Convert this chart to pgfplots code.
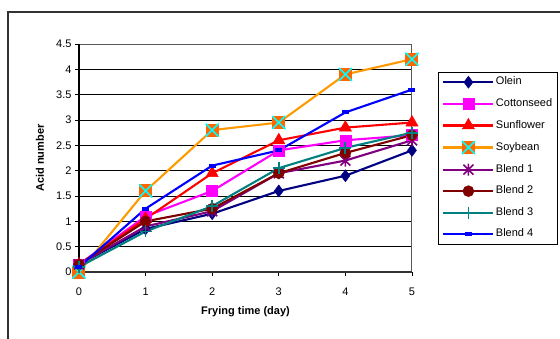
\documentclass[border=0pt]{standalone}
\usepackage{fontspec}
\setmainfont{Liberation Sans}
\usepackage{pgfplots}
\pgfplotsset{compat=1.18}
\definecolor{cOlein}{RGB}{0,0,128}
\definecolor{cCotton}{RGB}{255,0,255}
\definecolor{cSun}{RGB}{255,0,0}
\definecolor{cSoy}{RGB}{255,153,0}
\definecolor{cSoyFill}{RGB}{255,102,0}
\definecolor{cSoyX}{RGB}{0,255,255}
\definecolor{cB1}{RGB}{128,0,128}
\definecolor{cB2}{RGB}{128,0,0}
\definecolor{cB3}{RGB}{0,128,128}
\definecolor{cB4}{RGB}{0,0,255}
\pgfdeclareplotmark{soy}{%
  \pgfsetfillcolor{cSoyFill}%
  \pgfpathrectangle{\pgfpoint{-\pgfplotmarksize}{-\pgfplotmarksize}}{\pgfpoint{2\pgfplotmarksize}{2\pgfplotmarksize}}%
  \pgfusepath{fill}%
  \pgfsetstrokecolor{cSoyX}\pgfsetlinewidth{1.6pt}%
  \pgfpathmoveto{\pgfpoint{-\pgfplotmarksize}{-\pgfplotmarksize}}%
  \pgfpathlineto{\pgfpoint{\pgfplotmarksize}{\pgfplotmarksize}}%
  \pgfpathmoveto{\pgfpoint{-\pgfplotmarksize}{\pgfplotmarksize}}%
  \pgfpathlineto{\pgfpoint{\pgfplotmarksize}{-\pgfplotmarksize}}%
  \pgfusepath{stroke}%
}
\pgfdeclareplotmark{xstar}{%
  \pgfpathmoveto{\pgfpoint{-\pgfplotmarksize}{-\pgfplotmarksize}}%
  \pgfpathlineto{\pgfpoint{\pgfplotmarksize}{\pgfplotmarksize}}%
  \pgfpathmoveto{\pgfpoint{-\pgfplotmarksize}{\pgfplotmarksize}}%
  \pgfpathlineto{\pgfpoint{\pgfplotmarksize}{-\pgfplotmarksize}}%
  \pgfpathmoveto{\pgfpoint{0pt}{-1.2\pgfplotmarksize}}%
  \pgfpathlineto{\pgfpoint{0pt}{1.2\pgfplotmarksize}}%
  \pgfusepath{stroke}%
}
\pgfdeclareplotmark{bar4}{%
  \pgfpathrectangle{\pgfpoint{-3.5pt}{-2pt}}{\pgfpoint{7pt}{4pt}}%
  \pgfusepath{fill}%
}
\begin{document}
\begin{tikzpicture}
\useasboundingbox (0pt,0pt) rectangle (560pt,338pt);
\draw[line width=1.2pt, black!80] (8pt,-2pt) -- (8pt,326pt) -- (562pt,326pt);
\begin{axis}[
  at={(79pt,66pt)}, anchor=south west,
  scale only axis, width=333pt, height=228pt,
  xmin=0, xmax=5, ymin=0, ymax=4.5,
  xtick={0,1,2,3,4,5},
  ytick={0,0.5,1,1.5,2,2.5,3,3.5,4,4.5},
  /pgf/number format/assume math mode=true,
  tick label style={font=\fontsize{11}{12}\selectfont},
  xticklabel style={yshift=-8pt},
  tick align=outside, xtick pos=bottom, ytick pos=left,
  major tick length=4pt,
  tick style={black, line width=0.8pt},
  ymajorgrids,
  major grid style={black, line width=0.6pt},
  axis line style={draw=gray!70!black, line width=1pt},
  clip=false,
  xlabel={Frying time (day)},
  ylabel={Acid number},
  xlabel style={font=\bfseries\fontsize{11}{12}\selectfont, at={(axis description cs:0.5,-0.1754)}, anchor=center},
  ylabel style={font=\bfseries\fontsize{11}{12}\selectfont, at={(axis description cs:-0.117,0.5)}, anchor=center, rotate=0},
  every axis plot/.append style={line width=2.1pt},
  legend image code/.code={\draw[mark repeat=2,mark phase=2] plot coordinates {(0pt,0pt) (25pt,0pt) (50pt,0pt)};},
  legend style={at={(axis description cs:1.078,0.877)}, anchor=north west,
    draw=black, line width=0.8pt, fill=white,
    inner xsep=4pt, inner ysep=3pt, row sep=8pt,
    font=\fontsize{11}{12}\selectfont,
    nodes={inner sep=1.5pt, text height=8pt, text depth=2.5pt}},
  legend cell align=left,
]
\draw[black, line width=1.6pt] (rel axis cs:0,0) -- (rel axis cs:0,1);
\draw[black!80, line width=1.6pt] (rel axis cs:0,0) -- (rel axis cs:1,0);
\addplot[color=cOlein, mark=diamond*, mark size=6pt, mark options={line width=0.5pt}]
  coordinates {(0,0.15) (1,0.85) (2,1.15) (3,1.6) (4,1.9) (5,2.4)};
\addlegendentry{Olein}
\addplot[color=cCotton, mark=square*, mark size=5.5pt, mark options={line width=0.5pt}]
  coordinates {(0,0.15) (1,1.1) (2,1.6) (3,2.4) (4,2.6) (5,2.7)};
\addlegendentry{Cottonseed}
\addplot[color=cSun, mark=triangle*, mark size=7pt, mark options={line width=0.5pt}]
  coordinates {(0,0.15) (1,1.05) (2,1.95) (3,2.6) (4,2.85) (5,2.95)};
\addlegendentry{Sunflower}
\addplot[color=cSoy, mark=soy, mark size=6.5pt]
  coordinates {(0,0) (1,1.6) (2,2.8) (3,2.95) (4,3.9) (5,4.2)};
\addlegendentry{Soybean}
\addplot[color=cB1, mark=xstar, mark size=5pt, mark options={line width=1.6pt}]
  coordinates {(0,0.15) (1,0.9) (2,1.2) (3,1.95) (4,2.2) (5,2.6)};
\addlegendentry{Blend 1}
\addplot[color=cB2, mark=*, mark size=5.5pt, mark options={line width=0.5pt}]
  coordinates {(0,0.15) (1,1.0) (2,1.25) (3,1.95) (4,2.35) (5,2.7)};
\addlegendentry{Blend 2}
\addplot[color=cB3, mark=+, mark size=6pt, mark options={line width=1.8pt}]
  coordinates {(0,0.1) (1,0.8) (2,1.3) (3,2.05) (4,2.45) (5,2.75)};
\addlegendentry{Blend 3}
\addplot[color=cB4, mark=bar4]
  coordinates {(0,0.1) (1,1.25) (2,2.1) (3,2.4) (4,3.15) (5,3.6)};
\addlegendentry{Blend 4}
\end{axis}
\end{tikzpicture}
\end{document}
